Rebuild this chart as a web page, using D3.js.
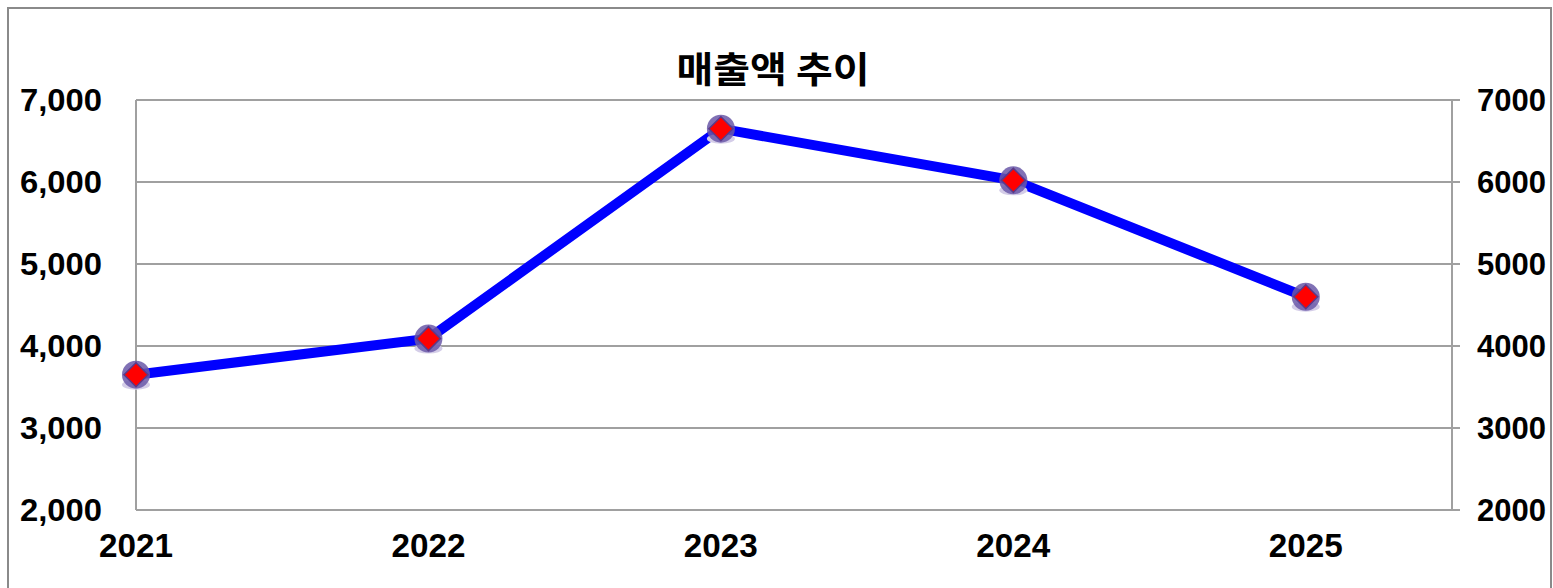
<!DOCTYPE html>
<html><head><meta charset="utf-8">
<script src="https://cdn.jsdelivr.net/npm/d3@7"></script>
<style>body{margin:0;background:#fff}svg{display:block}</style>
</head><body>
<svg id="c" width="1553" height="588"></svg>
<script>
const years = [2021, 2022, 2023, 2024, 2025];
const sales = [3650, 4090, 6650, 6020, 4600];
const yTicks = [2000, 3000, 4000, 5000, 6000, 7000];
const title = "매출액 추이";

const svg = d3.select("#c");
const L = 136, R = 1452, T = 100, B = 510;
const x = d3.scaleLinear().domain([2021, 2025.5]).range([L, R]);
const y = d3.scaleLinear().domain([2000, 7000]).range([B, T]);
const font = "'Liberation Sans', Arial, sans-serif";

svg.append("rect").attr("x", 8).attr("y", 8).attr("width", 1543).attr("height", 620)
  .attr("fill", "none").attr("stroke", "#8a8a8a").attr("stroke-width", 2);

svg.append("g").selectAll("line").data(yTicks).join("line")
  .attr("x1", L).attr("x2", R + 8)
  .attr("y1", d => y(d)).attr("y2", d => y(d))
  .attr("stroke", "#a0a0a0").attr("stroke-width", 2);
[L, R].forEach(px => svg.append("line").attr("x1", px).attr("x2", px).attr("y1", T).attr("y2", B)
  .attr("stroke", "#a0a0a0").attr("stroke-width", 2));

svg.append("g").selectAll("text").data(yTicks).join("text")
  .attr("x", 102).attr("y", d => y(d) + 11).attr("text-anchor", "end")
  .attr("font-family", font).attr("font-weight", "bold").attr("font-size", 32)
  .attr("textLength", 82).attr("lengthAdjust", "spacingAndGlyphs")
  .text(d => d3.format(",")(d));
svg.append("g").selectAll("text").data(yTicks).join("text")
  .attr("x", 1477).attr("y", d => y(d) + 11).attr("text-anchor", "start")
  .attr("font-family", font).attr("font-weight", "bold").attr("font-size", 31)
  .attr("textLength", 69).attr("lengthAdjust", "spacingAndGlyphs")
  .text(d => d);
svg.append("g").selectAll("text").data(years).join("text")
  .attr("x", d => x(d)).attr("y", 557).attr("text-anchor", "middle")
  .attr("font-family", font).attr("font-weight", "bold").attr("font-size", 33)
  .attr("textLength", 74).attr("lengthAdjust", "spacingAndGlyphs")
  .text(d => d);

svg.append("text").attr("x", 773).attr("y", 83).attr("text-anchor", "middle")
  .attr("font-family", "'Noto Sans CJK KR', sans-serif").attr("font-weight", "bold").attr("font-size", 36)
  .attr("textLength", 193).attr("lengthAdjust", "spacingAndGlyphs")
  .text(title);

const pts = years.map((d, i) => [x(d), y(sales[i])]);
svg.append("path").attr("d", d3.line()(pts)).attr("fill", "none")
  .attr("stroke", "#0000ff").attr("stroke-width", 10).attr("stroke-linejoin", "miter");

const m = svg.append("g").selectAll("g").data(pts).join("g")
  .attr("transform", d => `translate(${d[0]},${d[1]})`);
m.append("ellipse").attr("cx", 0).attr("cy", 10).attr("rx", 14).attr("ry", 5).attr("fill", "#d4cde8");
m.append("circle").attr("r", 14).attr("fill", "#6a58a8").attr("fill-opacity", 0.85);
m.append("path").attr("d", "M0,-12L12,0L0,12L-12,0Z").attr("fill", "#ff0000")
  .attr("stroke", "#5a3a8a").attr("stroke-width", 1.5);
</script>
</body></html>
